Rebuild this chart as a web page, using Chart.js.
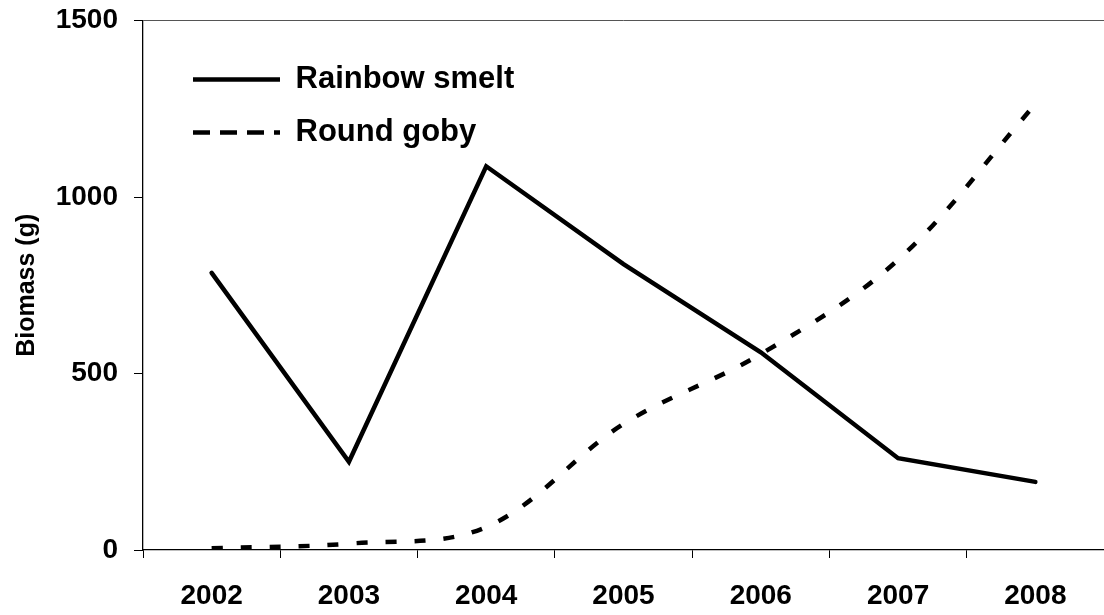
<!DOCTYPE html>
<html>
<head>
<meta charset="utf-8">
<script src="https://cdn.jsdelivr.net/npm/chart.js@4"></script>
<style>
  html, body { margin: 0; padding: 0; background: #fff; }
  #wrap { width: 1104px; height: 615px; }
</style>
</head>
<body>
<div id="wrap"><canvas id="chart" width="1104" height="615"></canvas></div>
<script>
// years on the x axis
var years = ['2002', '2003', '2004', '2005', '2006', '2007', '2008'];
// biomass in grams
var smelt = [785, 250, 1087, 810, 560, 260, 193];
var goby = [5, 18, 65, 357, 555, 822, 1263];
var yTicks = [0, 500, 1000, 1500];

var fontFam = '"Liberation Sans", Arial, sans-serif';

// nudge the legend inside the plot, like the original
var legendShift = {
    id: 'legendShift',
    afterLayout: function(chart) {
        chart.legend.left += 28;
        chart.legend.top += 42;
    }
};

var ctx = document.getElementById('chart').getContext('2d');
var chart = new Chart(ctx, {
    type: 'line',
    data: {
        labels: years,
        datasets: [{
            label: 'Rainbow smelt',
            data: smelt,
            borderColor: '#000',
            backgroundColor: '#000',
            borderWidth: 4.5,
            borderCapStyle: 'round',
            pointRadius: 0,
            tension: 0
        }, {
            label: 'Round goby',
            data: goby,
            borderColor: '#000',
            backgroundColor: '#000',
            borderWidth: 4.5,
            borderDash: [11, 18],
            pointRadius: 0,
            tension: 0.35
        }]
    },
    options: {
        responsive: false,
        animation: false,
        layout: { padding: { top: 20.5, right: 0, bottom: 0, left: 0 } },
        plugins: {
            tooltip: { enabled: false },
            legend: {
                position: 'chartArea',
                align: 'start',
                labels: {
                    color: '#000',
                    font: { family: fontFam, size: 31, weight: 'bold' },
                    usePointStyle: true,
                    pointStyle: 'line',
                    pointStyleWidth: 87,
                    padding: 22,
                    generateLabels: function(chart) {
                        var items = Chart.defaults.plugins.legend.labels.generateLabels(chart);
                        items.forEach(function(it) {
                            it.pointStyle = 'line';
                            it.lineWidth = 4.5;
                            if (it.datasetIndex === 1) it.lineDash = [17, 10];
                        });
                        return items;
                    }
                }
            }
        },
        scales: {
            x: {
                offset: true,
                afterFit: function(scale) { scale.height = 65; },
                grid: {
                    offset: true,
                    drawOnChartArea: false,
                    tickLength: 8,
                    tickColor: '#000'
                },
                border: { color: '#000', width: 1.3 },
                ticks: {
                    color: '#000',
                    padding: 21,
                    font: { family: fontFam, size: 28, weight: 'bold' }
                }
            },
            y: {
                min: 0,
                max: 1500,
                afterFit: function(scale) {
                    scale.width = 143;
                    scale.paddingTop = 0;
                    scale.paddingBottom = 0;
                },
                afterBuildTicks: function(scale) {
                    scale.ticks = yTicks.map(function(v) { return { value: v }; });
                },
                grid: {
                    color: function(c) { return c.tick && c.tick.value === 1500 ? '#555' : 'rgba(0,0,0,0)'; },
                    tickColor: '#000',
                    tickLength: 9
                },
                border: { color: '#000', width: 1.3 },
                ticks: {
                    color: '#000',
                    padding: 16,
                    font: { family: fontFam, size: 28, weight: 'bold' },
                    callback: function(v) { return String(v); }
                },
                title: {
                    display: true,
                    text: 'Biomass (g)',
                    color: '#000',
                    padding: { top: 12, bottom: 0 },
                    font: { family: fontFam, size: 25, weight: 'bold' }
                }
            }
        }
    },
    plugins: [legendShift]
});
</script>
</body>
</html>
